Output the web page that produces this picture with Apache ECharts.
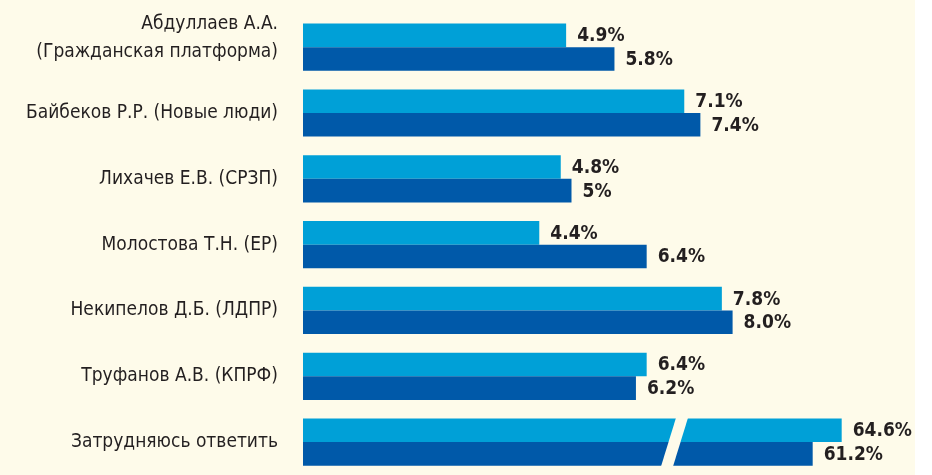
<!DOCTYPE html>
<html>
<head>
<meta charset="utf-8">
<script src="https://cdn.jsdelivr.net/npm/echarts@6/dist/echarts.min.js"></script>
<style>
    html, body { margin: 0; padding: 0; background: #fff; }
    #chart {
        width: 932px;
        height: 475px;
        background: linear-gradient(to right, #fefbea 915px, #ffffff 915px);
    }
</style>
</head>
<body>
<div id="chart"></div>
<script>
// категории и значения (в %)
const categories = [
    'Абдуллаев А.А.\n(Гражданская платформа)',
    'Байбеков Р.Р. (Новые люди)',
    'Лихачев Е.В. (СРЗП)',
    'Молостова Т.Н. (ЕР)',
    'Некипелов Д.Б. (ЛДПР)',
    'Труфанов А.В. (КПРФ)',
    'Затрудняюсь ответить'
];
const valuesLight = [4.9, 7.1, 4.8, 4.4, 7.8, 6.4, '-'];
const valuesDark = [5.8, 7.4, 5, 6.4, 8.0, 6.2, '-'];
// последняя строка рисуется на своей шкале (с разрывом)
const bigLight = ['-', '-', '-', '-', '-', '-', 64.6];
const bigDark = ['-', '-', '-', '-', '-', '-', 61.2];
const labelsLight = ['4.9%', '7.1%', '4.8%', '4.4%', '7.8%', '6.4%', '64.6%'];
const labelsDark = ['5.8%', '7.4%', '5%', '6.4%', '8.0%', '6.2%', '61.2%'];

const LIGHT = '#00a0d7';
const DARK = '#0059a9';
const BG = '#fefbea';
const narrow = '"Liberation Sans Narrow", "DejaVu Sans Condensed", "Roboto", sans-serif';

function valueLabel(labels) {
    return {
        show: true,
        position: 'right',
        distance: 11,
        offset: [0, 1],
        color: '#231f20',
        fontSize: 19,
        fontWeight: 'bold',
        fontFamily: narrow,
        formatter: function (p) { return labels[p.dataIndex]; }
    };
}

function barSeries(data, color, labels, xi, yi) {
    return {
        type: 'bar',
        data: data,
        xAxisIndex: xi,
        yAxisIndex: yi,
        barWidth: 23.6,
        barGap: '0%',
        clip: true,
        silent: true,
        itemStyle: { color: color },
        label: valueLabel(labels)
    };
}

var myChart = echarts.init(document.getElementById('chart'), null, { renderer: 'canvas' });
var option = {
    animation: false,
    backgroundColor: 'transparent',
    grid: { left: 303, top: 14.3, width: 545, height: 466.7, containLabel: false },
    xAxis: [
        { type: 'value', min: 0, max: 10.149, show: false },
        { type: 'value', min: 1.45, max: 65.34, show: false, position: 'top' }
    ],
    yAxis: [
        {
            type: 'category',
            data: categories,
            inverse: true,
            axisLine: { show: false },
            axisTick: { show: false },
            splitLine: { show: false },
            axisLabel: {
                margin: 25,
                color: '#231f20',
                fontSize: 19,
                lineHeight: 28,
                fontFamily: narrow,
                align: 'right',
                // двухстрочная подпись стоит чуть выше центра строки
                formatter: function (value) {
                    if (value.indexOf('\n') === -1) return value;
                    return value.split('\n').map(function (s) { return '{t|' + s + '}'; }).join('\n') + '\n{s| }';
                },
                rich: {
                    t: { fontSize: 19, lineHeight: 28, color: '#231f20', fontFamily: narrow },
                    s: { fontSize: 10, lineHeight: 18 }
                }
            }
        },
        {
            type: 'category',
            data: categories,
            inverse: true,
            position: 'right',
            show: false
        }
    ],
    series: [
        barSeries(valuesLight, LIGHT, labelsLight, 0, 0),
        barSeries(valuesDark, DARK, labelsDark, 0, 0),
        barSeries(bigLight, LIGHT, labelsLight, 1, 1),
        barSeries(bigDark, DARK, labelsDark, 1, 1)
    ]
};
option && myChart.setOption(option);

// разрыв шкалы на последней строке
var yc = myChart.convertToPixel({ yAxisIndex: 1 }, categories[6]);
var half = 23.6;
var xc = 674.5;
var slant = 7.6;
myChart.setOption({
    graphic: [{
        type: 'polygon',
        z: 100,
        shape: {
            points: [
                [xc + slant - 6, yc - half - 1],
                [xc + slant + 6, yc - half - 1],
                [xc - slant + 6, yc + half + 1],
                [xc - slant - 6, yc + half + 1]
            ]
        },
        style: { fill: BG }
    }]
});
</script>
</body>
</html>
